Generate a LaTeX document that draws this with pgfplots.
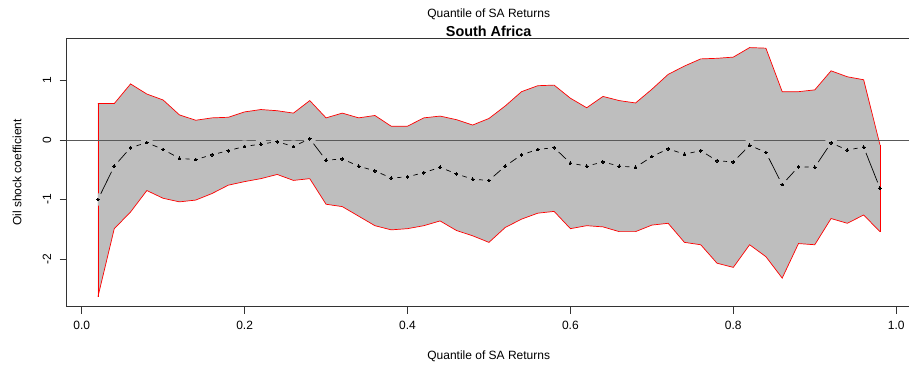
\documentclass[border=0pt]{standalone}
\usepackage{pgfplots}
\pgfplotsset{compat=1.18}
\usepackage{pgfplotstable}
\usepgfplotslibrary{fillbetween}
\usepackage{fontspec}
\setmainfont{Liberation Sans}
\definecolor{bandgray}{RGB}{190,190,190}
% fill-only discs used to open gaps in the median line round each point
\pgfdeclareplotmark{gapdisc}{\pgfpathcircle{\pgfpointorigin}{6.2pt}\pgfusepathqfill}
\pgfdeclareplotmark{gapright}{\pgfpathmoveto{\pgfpoint{0pt}{-6.2pt}}\pgfpatharc{-90}{90}{6.2pt}\pgfpathclose\pgfusepathqfill}
\pgfdeclareplotmark{gapleft}{\pgfpathmoveto{\pgfpoint{0pt}{6.2pt}}\pgfpatharc{90}{270}{6.2pt}\pgfpathclose\pgfusepathqfill}
\pgfplotstableread{
q lo med hi
0.02 -2.63 -1.00 0.61
0.04 -1.49 -0.44 0.61
0.06 -1.21 -0.13 0.94
0.08 -0.85 -0.045 0.77
0.10 -0.98 -0.16 0.67
0.12 -1.04 -0.31 0.42
0.14 -1.01 -0.33 0.33
0.16 -0.90 -0.25 0.37
0.18 -0.76 -0.18 0.38
0.20 -0.70 -0.11 0.47
0.22 -0.65 -0.07 0.51
0.24 -0.58 -0.03 0.49
0.26 -0.68 -0.11 0.45
0.28 -0.65 0.02 0.66
0.30 -1.08 -0.34 0.37
0.32 -1.12 -0.32 0.45
0.34 -1.28 -0.44 0.37
0.36 -1.44 -0.52 0.41
0.38 -1.51 -0.64 0.23
0.40 -1.49 -0.62 0.23
0.42 -1.44 -0.55 0.37
0.44 -1.36 -0.46 0.40
0.46 -1.52 -0.57 0.34
0.48 -1.61 -0.66 0.25
0.50 -1.72 -0.68 0.36
0.52 -1.47 -0.44 0.57
0.54 -1.33 -0.25 0.81
0.56 -1.23 -0.16 0.91
0.58 -1.20 -0.13 0.92
0.60 -1.49 -0.39 0.70
0.62 -1.44 -0.44 0.54
0.64 -1.46 -0.37 0.73
0.66 -1.54 -0.44 0.66
0.68 -1.54 -0.46 0.62
0.70 -1.43 -0.28 0.85
0.72 -1.40 -0.15 1.10
0.74 -1.72 -0.24 1.24
0.76 -1.76 -0.18 1.36
0.78 -2.07 -0.35 1.37
0.80 -2.14 -0.37 1.39
0.82 -1.76 -0.09 1.55
0.84 -1.96 -0.21 1.54
0.86 -2.32 -0.75 0.81
0.88 -1.74 -0.45 0.81
0.90 -1.76 -0.46 0.84
0.92 -1.32 -0.05 1.16
0.94 -1.40 -0.17 1.06
0.96 -1.26 -0.12 1.01
0.98 -1.54 -0.81 -0.08
}\datatable
\begin{document}
\begin{tikzpicture}
\begin{axis}[
  at={(0pt,0pt)}, anchor=south west,
  scale only axis, width=842.3pt, height=268.4pt,
  xmin=-0.0184, xmax=1.0157, ymin=-2.80, ymax=1.706,
  axis line style={black!80, line width=0.8pt},
  tick style={black!80, line width=0.8pt},
  tick align=outside, major tick length=7pt,
  xtick={0,0.2,0.4,0.6,0.8,1.0},
  xticklabels={0.0,0.2,0.4,0.6,0.8,1.0},
  ytick={-2,-1,0,1},
  yticklabels={-2,-1,0,1},
  xtick pos=bottom, ytick pos=left,
  tick label style={font=\fontsize{12}{14}\selectfont},
  xticklabel style={yshift=-4pt},
  yticklabel style={rotate=90, yshift=5pt},
  /pgf/number format/assume math mode=true,
  clip=true,
]
\addplot[name path=up, draw=none, forget plot] table[x=q, y=hi] {\datatable};
\addplot[name path=lo, draw=none, forget plot] table[x=q, y=lo] {\datatable};
\addplot[fill=bandgray, draw=none] fill between[of=up and lo];
% median line, with gaps round the points (R type "b")
\addplot[black, line width=0.7pt] table[x=q, y=med] {\datatable};
\addplot[bandgray, only marks, mark=gapdisc, mark options={fill=bandgray},
  skip coords between index={0}{1}, skip coords between index={48}{49}] table[x=q, y=med] {\datatable};
\addplot[bandgray, only marks, mark=gapright, mark options={fill=bandgray},
  skip coords between index={1}{49}] table[x=q, y=med] {\datatable};
\addplot[bandgray, only marks, mark=gapleft, mark options={fill=bandgray},
  skip coords between index={0}{48}] table[x=q, y=med] {\datatable};
\addplot[red, line width=0.7pt] table[x=q, y=hi] {\datatable};
\addplot[red, line width=0.7pt] table[x=q, y=lo] {\datatable};
\addplot[red, line width=0.7pt] coordinates {(0.02,0.61) (0.02,-2.63)};
\addplot[red, line width=0.7pt] coordinates {(0.98,-0.08) (0.98,-1.54)};
\addplot[black!65, line width=0.8pt] coordinates {(-0.1,0) (1.1,0)};
\addplot[black, only marks, mark=*, mark size=1.4pt, mark options={fill=black, draw=black, line width=0pt}] table[x=q, y=med] {\datatable};
\end{axis}
\node[font=\fontsize{12}{14}\selectfont] at (422pt, 292.7pt) {Quantile of SA Returns};
\node[font=\fontsize{14.4}{16}\selectfont\bfseries] at (422pt, 275.5pt) {South Africa};
\node[font=\fontsize{12}{14}\selectfont] at (422pt, -50pt) {Quantile of SA Returns};
\node[font=\fontsize{12}{14}\selectfont, rotate=90] at (-49.7pt, 134.2pt) {Oil shock coefficient};
\pgfresetboundingbox
\path[use as bounding box] (-66.7pt,-67.3pt) rectangle (842.3pt,306.7pt);
\end{tikzpicture}
\end{document}
